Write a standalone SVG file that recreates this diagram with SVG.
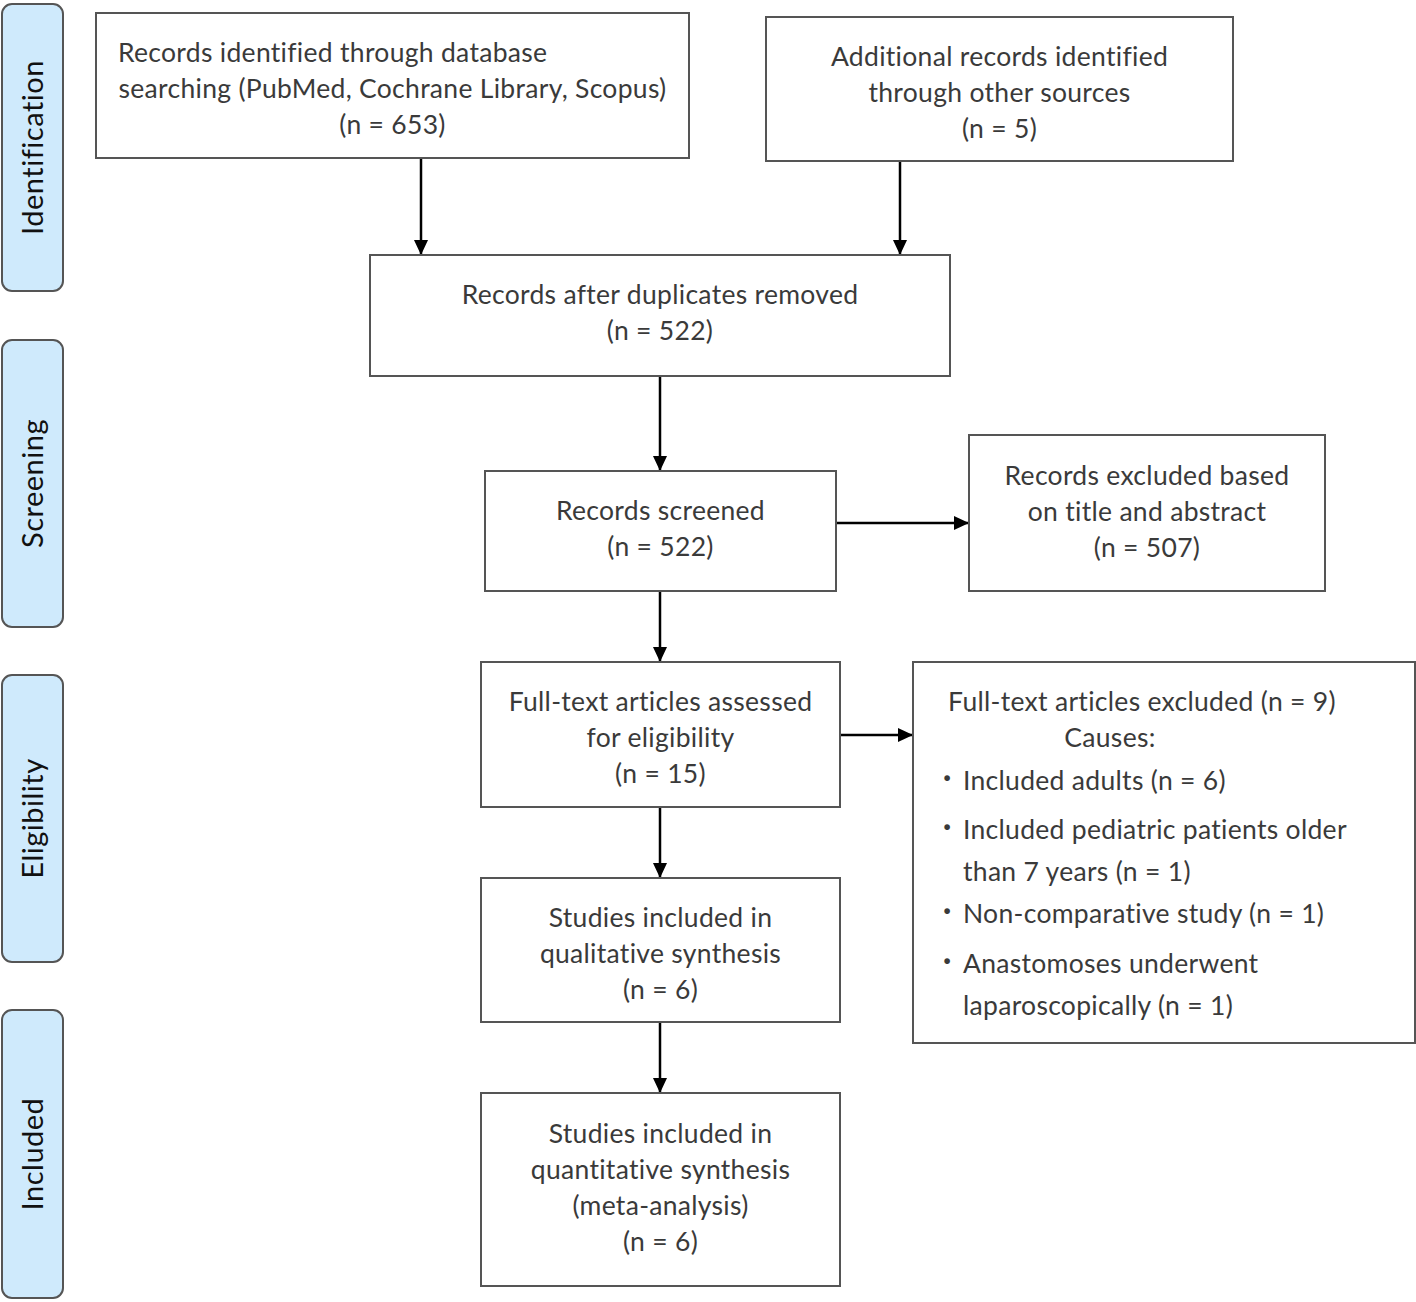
<svg xmlns="http://www.w3.org/2000/svg" width="1416" height="1302" viewBox="0 0 1416 1302">
<defs>
<marker id="ah" markerWidth="15" markerHeight="14" refX="15" refY="7" orient="auto" markerUnits="userSpaceOnUse" viewBox="0 0 15 14">
<path d="M0,0 L15,7 L0,14 z" fill="#000"/>
</marker>
<style>
.box{fill:#fff;stroke:#555;stroke-width:2}
.side{fill:#cfeafc;stroke:#555;stroke-width:2}
text{font-variant-ligatures:none}
.t{font-family:Lato,"Liberation Sans",sans-serif;font-size:26.5px;letter-spacing:0.3px;fill:#3a3a3a;text-anchor:middle}
.tl{font-family:Lato,"Liberation Sans",sans-serif;font-size:26.5px;letter-spacing:0.3px;fill:#3a3a3a;text-anchor:start}
.b{font-family:Lato,"Liberation Sans",sans-serif;font-size:30px;font-weight:bold;fill:#3a3a3a;text-anchor:start}
.s{font-family:Lato,"Liberation Sans",sans-serif;font-size:29px;letter-spacing:0.5px;fill:#111;text-anchor:middle}
.c{stroke:#000;stroke-width:2.5;fill:none}
</style>
</defs>
<rect width="1416" height="1302" fill="#fff"/>

<g id="phase-identification">
<rect class="side" x="2" y="4" width="61" height="287" rx="10"/>
<text class="s" transform="translate(43,147.5) rotate(-90)">Identification</text>
</g>
<g id="phase-screening">
<rect class="side" x="2" y="340" width="61" height="287" rx="10"/>
<text class="s" transform="translate(43,483.5) rotate(-90)">Screening</text>
</g>
<g id="phase-eligibility">
<rect class="side" x="2" y="675" width="61" height="287" rx="10"/>
<text class="s" transform="translate(43,818.5) rotate(-90)">Eligibility</text>
</g>
<g id="phase-included">
<rect class="side" x="2" y="1010" width="61" height="288" rx="10"/>
<text class="s" transform="translate(43,1154) rotate(-90)">Included</text>
</g>

<g id="connectors">
<line class="c" x1="421" y1="158" x2="421" y2="255" marker-end="url(#ah)"/>
<line class="c" x1="900" y1="161" x2="900" y2="255" marker-end="url(#ah)"/>
<line class="c" x1="660" y1="376" x2="660" y2="471" marker-end="url(#ah)"/>
<line class="c" x1="836" y1="523" x2="969" y2="523" marker-end="url(#ah)"/>
<line class="c" x1="660" y1="591" x2="660" y2="662" marker-end="url(#ah)"/>
<line class="c" x1="840" y1="735" x2="913" y2="735" marker-end="url(#ah)"/>
<line class="c" x1="660" y1="807" x2="660" y2="878" marker-end="url(#ah)"/>
<line class="c" x1="660" y1="1022" x2="660" y2="1093" marker-end="url(#ah)"/>
</g>

<g id="node-db">
<rect class="box" x="96" y="13" width="593" height="145"/>
<text class="tl" x="118" y="62">Records identified through database</text>
<text class="t" x="392.5" y="98">searching (PubMed, Cochrane Library, Scopus)</text>
<text class="t" x="392.5" y="134">(n = 653)</text>
</g>
<g id="node-other">
<rect class="box" x="766" y="17" width="467" height="144"/>
<text class="t" x="999.5" y="66">Additional records identified</text>
<text class="t" x="999.5" y="102">through other sources</text>
<text class="t" x="999.5" y="138">(n = 5)</text>
</g>
<g id="node-dedup">
<rect class="box" x="370" y="255" width="580" height="121"/>
<text class="t" x="660" y="304">Records after duplicates removed</text>
<text class="t" x="660" y="340">(n = 522)</text>
</g>
<g id="node-screened">
<rect class="box" x="485" y="471" width="351" height="120"/>
<text class="t" x="660.5" y="520">Records screened</text>
<text class="t" x="660.5" y="556">(n = 522)</text>
</g>
<g id="node-excl-title">
<rect class="box" x="969" y="435" width="356" height="156"/>
<text class="t" x="1147" y="485">Records excluded based</text>
<text class="t" x="1147" y="521">on title and abstract</text>
<text class="t" x="1147" y="557">(n = 507)</text>
</g>
<g id="node-fulltext">
<rect class="box" x="481" y="662" width="359" height="145"/>
<text class="t" x="660.5" y="711">Full-text articles assessed</text>
<text class="t" x="660.5" y="747">for eligibility</text>
<text class="t" x="660.5" y="783">(n = 15)</text>
</g>
<g id="node-excl-fulltext">
<rect class="box" x="913" y="662" width="502" height="381"/>
<text class="t" x="1142" y="711">Full-text articles excluded (n = 9)</text>
<text class="t" x="1110" y="747">Causes:</text>
<text class="b" x="943" y="787">·</text>
<text class="tl" x="963" y="790">Included adults (n = 6)</text>
<text class="b" x="943" y="836">·</text>
<text class="tl" x="963" y="839">Included pediatric patients older</text>
<text class="tl" x="963" y="881">than 7 years (n = 1)</text>
<text class="b" x="943" y="920">·</text>
<text class="tl" x="963" y="923">Non-comparative study (n = 1)</text>
<text class="b" x="943" y="970">·</text>
<text class="tl" x="963" y="973">Anastomoses underwent</text>
<text class="tl" x="963" y="1015">laparoscopically (n = 1)</text>
</g>
<g id="node-qualitative">
<rect class="box" x="481" y="878" width="359" height="144"/>
<text class="t" x="660.5" y="927">Studies included in</text>
<text class="t" x="660.5" y="963">qualitative synthesis</text>
<text class="t" x="660.5" y="999">(n = 6)</text>
</g>
<g id="node-quantitative">
<rect class="box" x="481" y="1093" width="359" height="193"/>
<text class="t" x="660.5" y="1143">Studies included in</text>
<text class="t" x="660.5" y="1179">quantitative synthesis</text>
<text class="t" x="660.5" y="1215">(meta-analysis)</text>
<text class="t" x="660.5" y="1251">(n = 6)</text>
</g>
</svg>
